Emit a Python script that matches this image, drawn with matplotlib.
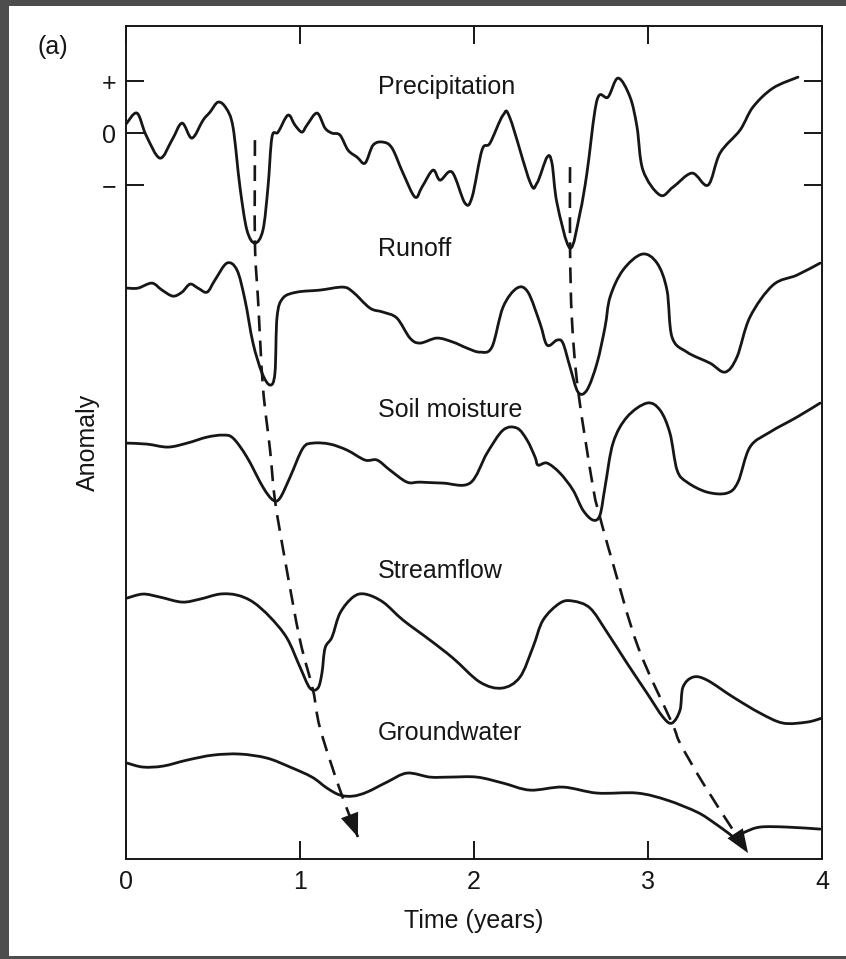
import numpy as np
import matplotlib
matplotlib.use('Agg')
import matplotlib.pyplot as plt
from matplotlib.patches import Rectangle, PathPatch
from matplotlib.path import Path

plt.rcParams['font.family'] = ['Liberation Sans', 'DejaVu Sans']

# time (years) and anomaly of each series
# every series is drawn shifted down by its offset
offsets = {'Precipitation': 0.0, 'Runoff': -3.0, 'Soil moisture': -6.0,
           'Streamflow': -9.0, 'Groundwater': -12.5}

t_precip = [0.000, 0.063, 0.115, 0.195, 0.264, 0.322, 0.379, 0.443, 0.483, 0.529,
            0.575, 0.615, 0.655, 0.695, 0.741, 0.787, 0.816, 0.839, 0.874, 0.931,
            0.971, 1.011, 1.040, 1.098, 1.144, 1.184, 1.230, 1.276, 1.328, 1.374,
            1.420, 1.477, 1.529, 1.592, 1.661, 1.701, 1.764, 1.805, 1.874, 1.948,
            1.989, 2.046, 2.092, 2.167, 2.207, 2.322, 2.362, 2.420, 2.448, 2.477,
            2.552, 2.609, 2.649, 2.707, 2.770, 2.828, 2.897, 2.937, 2.971, 3.069,
            3.144, 3.253, 3.345, 3.414, 3.529, 3.603, 3.718, 3.862]
a_precip = [0.173, 0.385, -0.038, -0.481, -0.135, 0.192, -0.096, 0.250, 0.404, 0.596,
            0.481, 0.115, -1.038, -1.865, -2.115, -1.865, -1.038, -0.077, 0.019, 0.346,
            0.154, 0.019, 0.154, 0.385, 0.096, 0.000, -0.038, -0.327, -0.462, -0.577,
            -0.231, -0.173, -0.288, -0.769, -1.231, -1.038, -0.712, -0.904, -0.750, -1.346,
            -1.231, -0.327, -0.192, 0.346, 0.288, -0.942, -0.962, -0.462, -0.577, -1.346,
            -2.212, -1.538, -0.769, 0.635, 0.692, 1.058, 0.692, 0.115, -0.712, -1.192,
            -1.038, -0.769, -1.000, -0.385, 0.058, 0.500, 0.865, 1.077]

t_runoff = [0.006, 0.069, 0.149, 0.207, 0.270, 0.322, 0.368, 0.414, 0.466, 0.511,
            0.580, 0.638, 0.684, 0.730, 0.782, 0.828, 0.856, 0.868, 0.902, 0.983,
            1.115, 1.247, 1.305, 1.402, 1.477, 1.557, 1.632, 1.690, 1.787, 1.879,
            1.960, 2.034, 2.103, 2.167, 2.247, 2.310, 2.379, 2.420, 2.477, 2.511,
            2.552, 2.598, 2.649, 2.707, 2.753, 2.782, 2.856, 2.966, 3.052, 3.109,
            3.138, 3.224, 3.356, 3.443, 3.511, 3.586, 3.718, 3.856, 3.989]
a_runoff = [0.019, 0.019, 0.115, -0.019, -0.135, -0.058, 0.096, 0.019, -0.058, 0.173,
            0.500, 0.365, -0.212, -1.038, -1.615, -1.846, -1.615, -0.538, -0.173, -0.058,
            -0.019, 0.038, -0.058, -0.365, -0.442, -0.558, -0.942, -1.038, -0.942, -1.019,
            -1.135, -1.212, -1.115, -0.346, 0.019, -0.058, -0.654, -1.077, -0.981, -1.038,
            -1.500, -1.981, -1.942, -1.423, -0.731, -0.154, 0.365, 0.673, 0.500, -0.019,
            -0.923, -1.212, -1.423, -1.596, -1.308, -0.538, 0.077, 0.269, 0.500]

t_soil = [0.006, 0.121, 0.241, 0.351, 0.466, 0.557, 0.615, 0.695, 0.787, 0.845,
          0.885, 0.943, 1.017, 1.075, 1.172, 1.270, 1.374, 1.443, 1.517, 1.615,
          1.690, 1.822, 1.977, 2.075, 2.167, 2.247, 2.305, 2.351, 2.368, 2.420,
          2.494, 2.569, 2.626, 2.684, 2.724, 2.753, 2.799, 2.879, 2.994, 3.069,
          3.126, 3.167, 3.224, 3.339, 3.454, 3.517, 3.586, 3.701, 3.856, 3.989]
a_soil = [0.038, 0.019, -0.038, 0.038, 0.154, 0.192, 0.135, -0.231, -0.808, -1.058,
          -1.019, -0.615, -0.058, 0.038, 0.019, -0.096, -0.288, -0.288, -0.481, -0.712,
          -0.712, -0.731, -0.731, -0.154, 0.288, 0.327, 0.096, -0.231, -0.385, -0.346,
          -0.538, -0.865, -1.250, -1.442, -1.346, -0.808, 0.038, 0.538, 0.808, 0.673,
          0.231, -0.481, -0.712, -0.904, -0.923, -0.712, -0.038, 0.250, 0.538, 0.808]

t_stream = [0.006, 0.098, 0.195, 0.322, 0.425, 0.540, 0.638, 0.730, 0.828, 0.925,
            1.000, 1.057, 1.103, 1.126, 1.144, 1.184, 1.230, 1.305, 1.374, 1.477,
            1.592, 1.747, 1.879, 2.034, 2.161, 2.264, 2.339, 2.397, 2.494, 2.569,
            2.667, 2.764, 2.879, 2.994, 3.086, 3.138, 3.184, 3.201, 3.259, 3.339,
            3.489, 3.644, 3.776, 3.914, 4.000]
a_stream = [0.058, 0.135, 0.077, -0.019, 0.038, 0.135, 0.115, -0.019, -0.308, -0.712,
            -1.269, -1.673, -1.673, -1.385, -0.904, -0.692, -0.231, 0.077, 0.135, -0.019,
            -0.365, -0.750, -1.096, -1.558, -1.673, -1.462, -0.885, -0.365, -0.038, 0.000,
            -0.135, -0.596, -1.192, -1.769, -2.231, -2.346, -2.096, -1.654, -1.462, -1.519,
            -1.846, -2.154, -2.346, -2.327, -2.250]

t_ground = [0.006, 0.098, 0.213, 0.351, 0.500, 0.655, 0.810, 0.943, 1.069, 1.155,
            1.230, 1.305, 1.385, 1.500, 1.615, 1.747, 1.862, 2.017, 2.167, 2.322,
            2.511, 2.707, 2.937, 3.109, 3.282, 3.374, 3.454, 3.500, 3.557, 3.644,
            3.799, 3.989]
a_ground = [0.385, 0.308, 0.327, 0.442, 0.538, 0.558, 0.481, 0.308, 0.115, -0.096,
            -0.231, -0.250, -0.173, 0.019, 0.192, 0.115, 0.115, 0.115, 0.000, -0.135,
            -0.077, -0.192, -0.192, -0.327, -0.558, -0.750, -0.942, -1.038, -0.942, -0.846,
            -0.846, -0.885]

series = [
    ('Precipitation', t_precip, a_precip),
    ('Runoff', t_runoff, a_runoff),
    ('Soil moisture', t_soil, a_soil),
    ('Streamflow', t_stream, a_stream),
    ('Groundwater', t_ground, a_ground),
]

# where each name sits (time, height on the shared axis)
label_pos = {'Precipitation': (1.448, 0.75), 'Runoff': (1.448, -2.365),
             'Soil moisture': (1.448, -5.462), 'Streamflow': (1.448, -8.558),
             'Groundwater': (1.448, -11.673)}

# dashed lag paths through the drought minima, on the shared axis
lag1_t = [0.741, 0.741, 0.759, 0.787, 0.828, 0.856, 0.914, 1.000, 1.075, 1.115, 1.230, 1.333]
lag1_y = [-0.135, -2.115, -3.212, -4.885, -6.096, -7.058, -8.212, -9.750, -10.712, -11.442, -12.635, -13.538]
lag2_t = [2.552, 2.552, 2.563, 2.598, 2.684, 2.724, 2.793, 2.943, 3.138, 3.184, 3.316, 3.489, 3.575]
lag2_y = [-0.654, -2.212, -3.596, -4.942, -6.808, -7.385, -8.212, -9.885, -11.346, -11.731, -12.500, -13.404, -13.846]

x_ticks = [0, 1, 2, 3, 4]
y_ticks = [1, 0, -1]
y_ticklabels = ['+', '0', '\u2212']

#%%


def smooth_path(t, y):
    # Catmull-Rom through the read points, handed to matplotlib as cubic Beziers
    p = np.column_stack([t, y])
    q = np.vstack([p[:1], p, p[-1:]])
    verts, codes = [p[0]], [Path.MOVETO]
    for i in range(1, len(q) - 2):
        c1 = q[i] + (q[i + 1] - q[i - 1]) / 6
        c2 = q[i + 1] - (q[i + 2] - q[i]) / 6
        verts += [c1, c2, q[i + 1]]
        codes += [Path.CURVE4] * 3
    return Path(verts, codes)


ink = '#161616'

fig = plt.figure(figsize=(8.46, 9.59), dpi=100)
fig.patch.set_facecolor('#4d4d4d')
fig.patches.append(Rectangle((9 / 846, 3 / 959), 1.0, 1 - 9 / 959,
                             transform=fig.transFigure, facecolor='white',
                             edgecolor='none', zorder=-10))

ax = fig.add_axes([126 / 846, 1 - 859 / 959, 696 / 846, 833 / 959])
ax.set_facecolor('white')

for name, t, a in series:
    y = np.array(a) + offsets[name]
    ax.add_patch(PathPatch(smooth_path(t, y), fill=False, edgecolor=ink, lw=2.0,
                           joinstyle='round', capstyle='round'))
    ax.text(*label_pos[name], name, fontsize=18, color=ink, ha='left', va='baseline')

for lt, ly in [(lag1_t, lag1_y), (lag2_t, lag2_y)]:
    ax.add_patch(PathPatch(smooth_path(lt, ly), fill=False, edgecolor=ink, lw=1.9,
                           ls=(0, (6, 3.5))))
    ax.annotate('', xy=(lt[-1], ly[-1]), xytext=(lt[-2], ly[-2]),
                arrowprops=dict(arrowstyle='-|>,head_length=0.85,head_width=0.33',
                                mutation_scale=20, facecolor=ink, edgecolor=ink,
                                lw=0, shrinkA=0, shrinkB=0))

ax.set_xlim(0, 4)
ax.set_ylim(-13.96, 2.06)
ax.set_xticks(x_ticks)
ax.set_yticks(y_ticks)
ax.set_yticklabels(y_ticklabels)

ax.tick_params(direction='in', top=True, right=True, length=13, width=1.4,
               labelsize=18, colors=ink)
ax.tick_params(axis='x', pad=8)
ax.tick_params(axis='y', pad=7)
for s in ax.spines.values():
    s.set_linewidth(1.4)
    s.set_color(ink)

ax.set_xlabel('Time (years)', fontsize=18, color=ink)
ax.xaxis.set_label_coords(0.5, -0.0744)
ax.xaxis.label.set_va('center')
ax.set_ylabel('Anomaly', fontsize=18, color=ink)
ax.yaxis.set_label_coords(-0.0546, 0.5)
ax.yaxis.label.set_va('center')

fig.text(53 / 846, 1 - 47 / 959, '(a)', fontsize=18, color=ink, ha='center', va='center')

fig.savefig('out.png', dpi=100, facecolor=fig.get_facecolor())
